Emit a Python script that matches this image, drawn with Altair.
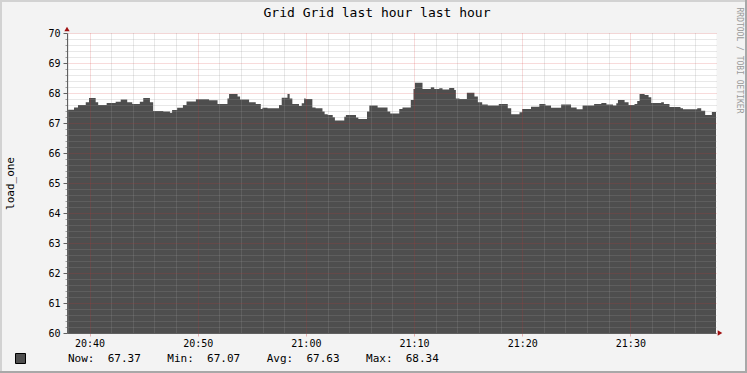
import altair as alt
import pandas as pd

# ---------------- data ----------------
title_text = "Grid Grid last hour last hour"
y_title = "load_one"
credit_text = "RRDTOOL / TOBI OETIKER"

start_time = "2024-01-01 20:37:55"
span_seconds = 3600

# change points (seconds after start) and load_one value from that point on
offset_s = [0, 39, 61, 104, 122, 159, 173, 220, 270, 298,
            334, 362, 404, 423, 460, 478, 534, 571, 583, 611,
            643, 663, 715, 788, 835, 890, 899, 946, 960, 1010,
            1047, 1075, 1084, 1112, 1176, 1191, 1223, 1235, 1250, 1287,
            1302, 1315, 1324, 1361, 1379, 1417, 1429, 1446, 1474, 1486,
            1538, 1547, 1603, 1616, 1664, 1677, 1723, 1778, 1793, 1843,
            1861, 1907, 1922, 1930, 1972, 2018, 2037, 2065, 2083, 2120,
            2148, 2157, 2177, 2218, 2260, 2279, 2303, 2334, 2395, 2445,
            2464, 2510, 2525, 2574, 2620, 2654, 2685, 2741, 2796, 2827,
            2860, 2924, 2964, 2992, 3029, 3047, 3056, 3093, 3115, 3148,
            3163, 3176, 3204, 3226, 3241, 3296, 3311, 3342, 3403, 3417,
            3496, 3518, 3540, 3577, 3600]
load_values = [67.44, 67.52, 67.60, 67.69, 67.83, 67.69, 67.60, 67.67, 67.71, 67.78,
               67.69, 67.63, 67.71, 67.83, 67.69, 67.40, 67.38, 67.34, 67.43, 67.51,
               67.60, 67.72, 67.79, 67.76, 67.63, 67.82, 67.97, 67.88, 67.78, 67.69,
               67.63, 67.47, 67.51, 67.49, 67.60, 67.84, 67.97, 67.82, 67.63, 67.57,
               67.66, 67.82, 67.80, 67.52, 67.49, 67.38, 67.29, 67.27, 67.19, 67.08,
               67.21, 67.27, 67.18, 67.13, 67.38, 67.58, 67.52, 67.38, 67.32, 67.47,
               67.52, 67.77, 68.13, 68.34, 68.13, 68.19, 68.13, 68.16, 68.12, 68.17,
               68.10, 67.82, 67.80, 68.01, 67.88, 67.69, 67.62, 67.58, 67.63, 67.49,
               67.29, 67.36, 67.47, 67.54, 67.63, 67.58, 67.51, 67.62, 67.52, 67.46,
               67.58, 67.63, 67.67, 67.62, 67.58, 67.66, 67.77, 67.69, 67.60, 67.63,
               67.73, 67.97, 67.93, 67.86, 67.67, 67.69, 67.63, 67.53, 67.49, 67.46,
               67.49, 67.41, 67.27, 67.37, 67.37]

stat_names = ["Now:", "Min:", "Avg:", "Max:"]
stat_values = [67.37, 67.07, 67.63, 68.34]

y_major = [60, 61, 62, 63, 64, 65, 66, 67, 68, 69, 70]

# ---------------- styling ----------------
FONT = "DejaVu Sans Mono"
AREA = "#4e4e4e"
MINOR = "rgba(150,150,150,0.45)"
MAJOR = "rgba(215,50,50,0.35)"
AXIS = "#606060"
ARROW = "#a01010"
BG = "#f3f3f3"

t0 = pd.Timestamp(start_time)
t1 = t0 + pd.Timedelta(seconds=span_seconds)

NB = "\u00a0"
legend_label = (NB * 4).join(
    f"{n}{NB * 2}{v:.2f}" for n, v in zip(stat_names, stat_values)
)

df = pd.DataFrame({
    "time": t0 + pd.to_timedelta(offset_s, unit="s"),
    "load": load_values,
    "series": legend_label,
})


def dt(ts):
    return alt.DateTime(year=int(ts.year), month=int(ts.month), date=int(ts.day),
                        hours=int(ts.hour), minutes=int(ts.minute),
                        seconds=int(ts.second))


ticks_all = pd.date_range(t0.ceil("2min"), t1, freq="2min")
x_major = [dt(t) for t in ticks_all if t.minute % 10 == 0]
x_minor = [dt(t) for t in ticks_all if t.minute % 10 != 0]

x_scale = alt.Scale(domain=[dt(t0), dt(t1)])
y_scale = alt.Scale(domain=[60, 70], nice=False, zero=False)
y_minor = [round(60 + i * 0.2, 1) for i in range(51) if i % 5 != 0]

# minor grid carrier (invisible)
minor = alt.Chart(df).mark_line(strokeOpacity=0).encode(
    x=alt.X("time:T", scale=x_scale, axis=alt.Axis(
        orient="bottom", values=x_minor,
        grid=True, gridColor=MINOR, gridDash=[1, 1], labels=False,
        ticks=False, domain=False, title=None, zindex=1)),
    y=alt.Y("load:Q", scale=y_scale, axis=alt.Axis(
        orient="left", values=y_minor, grid=True, gridColor=MINOR,
        gridDash=[1, 1], labels=False, ticks=True, tickSize=2,
        tickColor="#a0a0a0", domain=False, title=None, zindex=1)),
)

area = alt.Chart(df).mark_area(interpolate="step-after").encode(
    x=alt.X("time:T", scale=x_scale, axis=alt.Axis(
        orient="bottom", values=x_major,
        format="%H:%M", grid=True, gridColor=MAJOR, gridDash=[1, 1],
        ticks=True, tickSize=3, tickColor=MAJOR, domain=True,
        domainColor=AXIS, labelFont=FONT, labelFontSize=10,
        labelColor="#000000", labelPadding=2, labelFlush=False,
        title=None, zindex=2)),
    y=alt.Y("load:Q", scale=y_scale, axis=alt.Axis(
        orient="left", values=y_major, format="d", grid=True,
        gridColor=MAJOR, gridDash=[1, 1], ticks=True, tickSize=4,
        tickColor=AXIS, domain=True, domainColor=AXIS, labelFont=FONT,
        labelFontSize=10, labelColor="#000000", labelPadding=3,
        title=y_title, titleFont=FONT, titleFontSize=11,
        titleFontWeight="normal", titleColor="#000000", titleAngle=270,
        titleX=-57, titleY=150, titleAlign="center",
        titleBaseline="middle", zindex=2)),
    y2=alt.datum(60),
    color=alt.Color("series:N", scale=alt.Scale(range=[AREA]), legend=alt.Legend(
        title=None, orient="none", legendX=-52, legendY=320,
        symbolType="square", symbolSize=100, symbolStrokeColor="#000000",
        symbolStrokeWidth=1, symbolOpacity=1, labelFont=FONT,
        labelFontSize=11, labelColor="#000000", labelOffset=42,
        labelLimit=700)),
)

one = alt.Data(values=[{"k": 1}])

arrow_up = alt.Chart(one).mark_point(
    shape="triangle-up", filled=True, size=28, color=ARROW, opacity=1, yOffset=-4
).encode(x=alt.XDatum(dt(t0), type="temporal", axis=None),
         y=alt.YDatum(70, type="quantitative", axis=None))

arrow_right = alt.Chart(one).mark_point(
    shape="triangle-right", filled=True, size=28, color=ARROW, opacity=1, xOffset=4
).encode(x=alt.XDatum(dt(t1), type="temporal", axis=None),
         y=alt.YDatum(60, type="quantitative", axis=None))

title = alt.Chart(alt.Data(values=[{"t": title_text}])).mark_text(
    align="center", baseline="middle", font=FONT, fontSize=13,
    color="#000000"
).encode(text="t:N", x=alt.value(310), y=alt.value(-20))

credit = alt.Chart(alt.Data(values=[{"t": credit_text}])).mark_text(
    angle=90, align="center", baseline="middle", font=FONT, fontSize=8,
    color="#9a9a9a"
).encode(text="t:N", x=alt.value(671.5), y=alt.value(27.5))

frame_light = "#d2d2d2"
frame_dark = "#a8a8a8"
top_edge = alt.Chart(one).mark_rule(color=frame_light, strokeWidth=2).encode(
    x=alt.value(-67), x2=alt.value(680), y=alt.value(-32))
left_edge = alt.Chart(one).mark_rule(color=frame_light, strokeWidth=2).encode(
    x=alt.value(-66), y=alt.value(-33), y2=alt.value(340))
bottom_edge = alt.Chart(one).mark_rule(color=frame_dark, strokeWidth=2).encode(
    x=alt.value(-67), x2=alt.value(680), y=alt.value(339))
right_edge = alt.Chart(one).mark_rule(color=frame_dark, strokeWidth=2).encode(
    x=alt.value(679), y=alt.value(-33), y2=alt.value(340))

chart = alt.layer(
    minor, area, arrow_up, arrow_right, title, credit,
    top_edge, left_edge, bottom_edge, right_edge,
).resolve_axis(
    x="independent", y="independent"
).properties(
    width=649, height=300,
    padding={"left": 67, "top": 33, "right": 31, "bottom": 40},
    autosize=alt.AutoSizeParams(type="none"),
    background=BG,
).configure_view(
    fill="#ffffff", stroke="transparent"
)

chart.save("out.html", embed_options={"renderer": "svg", "actions": False})
